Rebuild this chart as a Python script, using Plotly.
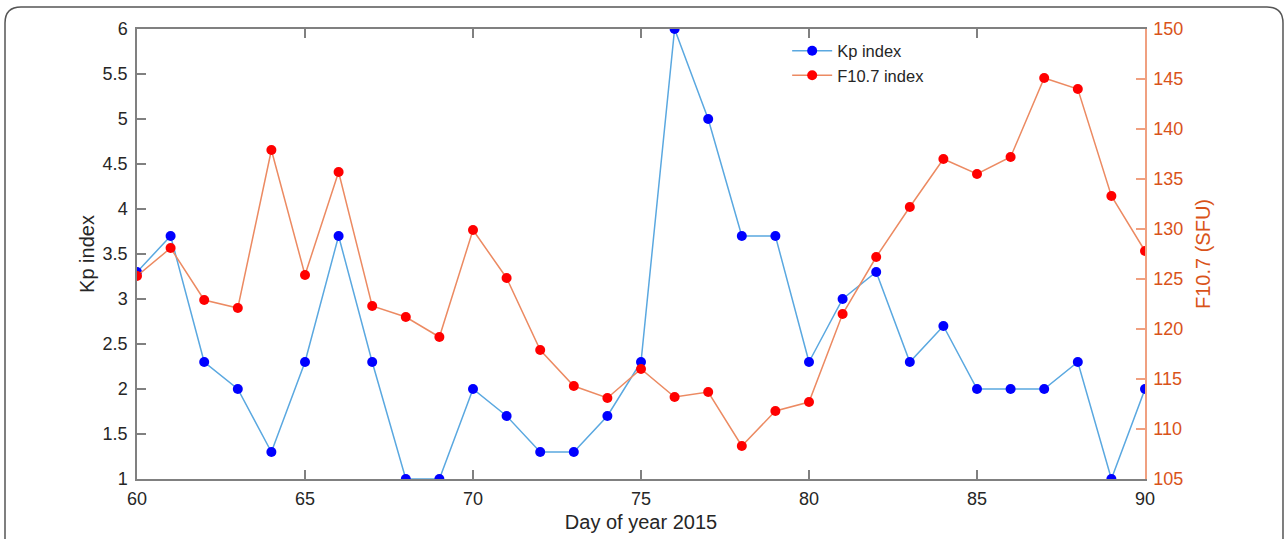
import plotly.graph_objects as go

days = list(range(60, 91))
kp = [3.3, 3.7, 2.3, 2.0, 1.3, 2.3, 3.7, 2.3, 1.0, 1.0, 2.0, 1.7, 1.3, 1.3, 1.7, 2.3,
      6.0, 5.0, 3.7, 3.7, 2.3, 3.0, 3.3, 2.3, 2.7, 2.0, 2.0, 2.0, 2.3, 1.0, 2.0]
f107 = [125.3, 128.1, 122.9, 122.1, 137.9, 125.4, 135.7, 122.3, 121.2, 119.2, 129.9,
        125.1, 117.9, 114.3, 113.1, 116.0, 113.2, 113.7, 108.3, 111.8, 112.7, 121.5,
        127.2, 132.2, 137.0, 135.5, 137.2, 145.1, 144.0, 133.3, 127.8]

W, H = 1288, 539
L, R, T, B = 137, 143, 29, 60
pw, ph = W - L - R, H - T - B

fig = go.Figure()
fig.add_trace(go.Scatter(x=days, y=kp, mode="lines+markers", name="Kp index",
                         line=dict(color="#5aa8e0", width=1.5),
                         marker=dict(color="#0000ff", size=10)))
fig.add_trace(go.Scatter(x=days, y=f107, mode="lines+markers", name="F10.7 index",
                         yaxis="y2",
                         line=dict(color="#ec8a62", width=1.5),
                         marker=dict(color="#ff0000", size=10)))

def px2paper(x, y):
    return (x - L) / pw, (H - B - y) / ph

# rounded frame
x0, y0, x1, y1, r = 5, 7, 1283, 560, 16
def P(x, y):
    a, b = px2paper(x, y)
    return f"{a:.5f},{b:.5f}"
path = (f"M {P(x0, y1)} L {P(x0, y0 + r)} Q {P(x0, y0)} {P(x0 + r, y0)} "
        f"L {P(x1 - r, y0)} Q {P(x1, y0)} {P(x1, y0 + r)} L {P(x1, y1)}")

FF = "Liberation Sans, Arial, sans-serif"
axis_font = dict(family=FF, size=18, color="#262626")
orange = "#d95319"

fig.update_layout(
    width=W, height=H,
    margin=dict(l=L, r=R, t=T, b=B, autoexpand=False),
    paper_bgcolor="white", plot_bgcolor="white",
    font=dict(family=FF, size=18, color="#262626"),
    showlegend=True,
    legend=dict(x=0.645, y=0.99, xanchor="left", yanchor="top",
                bgcolor="rgba(0,0,0,0)", font=dict(family=FF, size=16.5, color="#262626"),
                itemwidth=40, tracegroupgap=0),
    xaxis=dict(range=[60, 90], dtick=5, tick0=60, showgrid=False, zeroline=False,
               automargin=False,
               showline=True, linecolor="#808080", linewidth=1.5, mirror="ticks",
               ticks="inside", ticklen=9, tickcolor="#808080", tickwidth=1.5,
               tickfont=axis_font, ticklabelstandoff=3,
               title=dict(text="Day of year 2015", font=dict(family=FF, size=20, color="#262626"),
                          standoff=7)),
    yaxis=dict(range=[1, 6], dtick=0.5, tick0=1, showgrid=False, zeroline=False,
               automargin=False,
               showline=True, linecolor="#808080", linewidth=1.5,
               ticks="inside", ticklen=9, tickcolor="#808080", tickwidth=1.5,
               tickfont=axis_font, ticklabelstandoff=4,
               title=dict(text="Kp index", font=dict(family=FF, size=20, color="#262626"),
                          standoff=3)),
    yaxis2=dict(range=[105, 150], dtick=5, tick0=105, overlaying="y", side="right",
                showgrid=False, zeroline=False, automargin=False,
                showline=True, linecolor="#f0a080", linewidth=1.5,
                ticks="inside", ticklen=9, tickcolor="#f0a080", tickwidth=1.5,
                tickfont=dict(family=FF, size=18, color=orange), ticklabelstandoff=3,
                title=dict(text="F10.7 (SFU)", font=dict(family=FF, size=20, color=orange),
                           standoff=14)),
    shapes=[dict(type="path", xref="paper", yref="paper", path=path,
                 line=dict(color="#555555", width=1.5), layer="above")],
)

fig.write_html("out.html")
